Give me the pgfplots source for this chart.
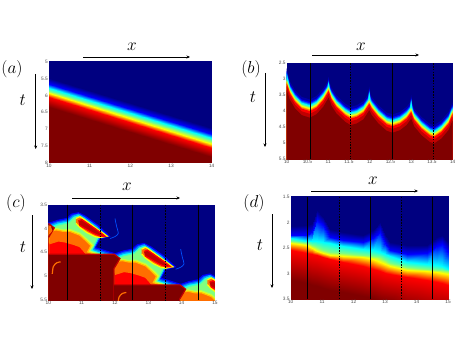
\documentclass[border=0pt]{standalone}
\usepackage{fontspec}
\setmainfont{Liberation Sans}
\usepackage{pgfplots}
\usepackage{pgfplotstable}
\pgfplotsset{compat=1.18}
\usetikzlibrary{arrows.meta}
\pgfplotsset{colormap={matjet}{rgb255(0cm)=(0,0,128) rgb255(1cm)=(0,0,255) rgb255(3cm)=(0,255,255) rgb255(5cm)=(255,255,0) rgb255(7cm)=(255,0,0) rgb255(8cm)=(128,0,0)}}
\pgfplotsset{panel/.style={scale only axis, y dir=reverse, axis on top, colormap name=matjet,
  point meta min=0, point meta max=1, tick style={draw=none}, axis line style={draw=none},
  tick label style={font=\fontsize{4.8}{5}\selectfont, text=black!70, inner sep=1pt},
  /pgf/number format/assume math mode=true, enlargelimits=false, anchor=south west, clip=true,
  axis background/.style={fill={rgb,255:red,0;green,0;blue,130}}}}
\tikzset{solidv/.style={black, line width=0.8pt}, dashv/.style={black, line width=0.7pt, dash pattern=on 1.6pt off 1.2pt},
  arr/.style={-{Stealth[length=3.5pt,width=3pt]}, black, line width=0.5pt}}
\definecolor{j1}{RGB}{0,0,170}\definecolor{j2}{RGB}{0,0,255}\definecolor{j3}{RGB}{0,80,255}\definecolor{j4}{RGB}{0,160,255}
\definecolor{j5}{RGB}{0,255,255}\definecolor{j6}{RGB}{64,255,191}\definecolor{j7}{RGB}{128,255,128}\definecolor{j8}{RGB}{191,255,64}
\definecolor{j9}{RGB}{255,255,0}\definecolor{j10}{RGB}{255,192,0}\definecolor{j11}{RGB}{255,110,0}\definecolor{j12}{RGB}{255,0,0}
\definecolor{j13}{RGB}{192,0,0}\definecolor{j14}{RGB}{128,0,0}
% panel (b): front position, with and without the spikes at the cusps
\pgfplotstableread{
10.00 3.02
10.08 3.33
10.20 3.59
10.36 3.80
10.56 3.88
10.72 3.77
10.88 3.54
11.01 3.25
11.08 3.51
11.20 3.75
11.41 4.01
11.54 4.11
11.69 4.06
11.85 3.93
11.99 3.65
12.05 3.80
12.21 4.06
12.41 4.29
12.55 4.35
12.73 4.27
12.89 4.11
13.00 3.91
13.07 4.15
13.25 4.43
13.45 4.64
13.55 4.69
13.73 4.53
13.90 4.27
14.00 3.96
14.00 7
10.00 7
}\frontb
\pgfplotstableread{
10.00 2.91
10.08 3.33
10.20 3.59
10.36 3.80
10.56 3.88
10.72 3.77
10.88 3.54
10.98 3.34
11.01 3.17
11.04 3.38
11.08 3.51
11.20 3.75
11.41 4.01
11.54 4.11
11.69 4.06
11.85 3.93
11.96 3.72
11.99 3.48
12.02 3.72
12.05 3.80
12.21 4.06
12.41 4.29
12.55 4.35
12.73 4.27
12.89 4.11
12.97 3.98
13.00 3.74
13.03 4.00
13.07 4.15
13.25 4.43
13.45 4.64
13.55 4.69
13.73 4.53
13.90 4.27
14.00 3.96
14.00 7
10.00 7
}\frontbs
% panel (c): one period of the pattern, one contour per table
\pgfplotstableread{
10.03 3.89
10.28 3.83
10.56 3.79
10.70 3.70
10.90 3.67
11.10 3.74
11.48 3.93
11.83 4.16
11.55 4.21
11.40 4.40
12.00 4.53
12.00 7
10.03 7
}\cb
\pgfplotstableread{
10.03 3.95
10.28 3.88
10.60 3.84
10.75 3.74
10.91 3.70
11.07 3.77
11.45 3.96
11.73 4.15
11.52 4.19
11.34 4.44
12.00 4.59
12.00 7
10.03 7
}\cc
\pgfplotstableread{
10.03 4.00
10.28 3.93
10.60 3.88
10.77 3.77
10.91 3.74
11.05 3.79
11.40 3.98
11.65 4.15
11.49 4.18
11.29 4.47
12.00 4.64
12.00 7
10.03 7
}\cg
\pgfplotstableread{
10.03 4.02
10.25 4.00
10.45 4.03
10.65 4.02
10.95 4.10
11.17 4.23
11.35 4.35
11.23 4.47
12.00 4.66
12.00 7
10.03 7
}\cy
\pgfplotstableread{
10.03 4.05
10.25 4.03
10.45 4.06
10.65 4.06
10.95 4.14
11.15 4.27
11.28 4.36
11.18 4.49
12.00 4.69
12.00 7
10.03 7
}\co
\pgfplotstableread{
10.03 4.32
10.30 4.26
10.50 4.28
10.75 4.33
10.95 4.38
11.05 4.46
11.12 4.52
12.00 4.96
12.00 7
10.03 7
}\cr
\pgfplotstableread{
10.00 4.54
11.98 4.54
12.15 4.63
11.97 4.84
11.97 5.18
11.97 7
10.00 7
}\cd
\pgfplotstableread{
10.83 3.79
10.95 3.75
11.10 3.82
11.45 4.00
11.77 4.16
11.55 4.19
11.40 4.17
11.17 4.09
10.95 3.98
10.83 3.89
}\tonguea
\pgfplotstableread{
10.90 3.84
11.00 3.81
11.15 3.88
11.50 4.05
11.70 4.16
11.55 4.16
11.35 4.10
11.10 4.00
10.93 3.93
}\tongueb
\pgfplotstableread{
12.00 3.79
12.05 3.96
12.10 4.10
12.00 4.17
11.85 4.21
}\plume
\pgfplotstableread{
10.12 4.95
10.15 4.80
10.25 4.72
10.37 4.70
}\cresc
% shifted copy of a contour of panel (c), with a soft edge one colour step out
\newcommand\cell[5]{\addplot[draw=#4, line width=1.2pt, fill=#3, forget plot] table[x expr=\thisrowno{0}+#1, y expr=\thisrowno{1}+#2] {#5};}
\newcommand\cells[3]{\cell{-1.97}{-0.643}{#1}{#2}{#3}\cell{0}{0}{#1}{#2}{#3}\cell{1.97}{0.643}{#1}{#2}{#3}\cell{3.94}{1.286}{#1}{#2}{#3}}
\newcommand\lined[5]{\addplot[#3, line width=#4, smooth, forget plot] table[x expr=\thisrowno{0}+#1, y expr=\thisrowno{1}+#2] {#5};}
% one contour of panel (b)
\newcommand\band[3]{\addplot[draw=none, fill=#2, forget plot] table[x index=0, y expr=\thisrowno{1}+#1] {#3};}
\begin{document}
\begin{tikzpicture}[x=1pt,y=1pt]
\path[use as bounding box] (0,0) rectangle (457,343);
% (a)
\begin{axis}[panel, at={(49pt,180.3pt)}, width=162.7pt, height=101pt,
  xmin=10, xmax=14, ymin=5, ymax=8, xtick={10,11,12,13,14}, ytick={5,5.5,6,6.5,7,7.5,8}]
\addplot[surf, shader=interp, mesh/rows=9, point meta=explicit] coordinates {
(10,3)[0] (14,4)[0]
(10,5.47)[0] (14,6.96)[0]
(10,5.67)[.125] (14,7.16)[.125]
(10,5.79)[.375] (14,7.28)[.375]
(10,5.88)[.5] (14,7.37)[.5]
(10,5.94)[.625] (14,7.43)[.625]
(10,6.06)[.875] (14,7.55)[.875]
(10,6.34)[1] (14,7.83)[1]
(10,9)[1] (14,10)[1]
};
\end{axis}
% (b)
\begin{axis}[panel, at={(286.7pt,183.7pt)}, width=166pt, height=96pt,
  xmin=10, xmax=14, ymin=2.5, ymax=5.5, xtick={10,10.5,11,11.5,12,12.5,13,13.5,14}, ytick={2.5,3,3.5,4,4.5,5,5.5}]
\band{-0.25}{j1}{\frontbs}
\band{-0.17}{j2}{\frontbs}
\band{-0.13}{j3}{\frontbs}
\band{-0.10}{j4}{\frontbs}
\band{-0.07}{j5}{\frontbs}
\band{-0.04}{j6}{\frontb}
\band{-0.01}{j7}{\frontb}
\band{0.01}{j8}{\frontb}
\band{0.03}{j9}{\frontb}
\band{0.055}{j10}{\frontb}
\band{0.08}{j11}{\frontb}
\band{0.115}{j12}{\frontb}
\band{0.2}{j13}{\frontb}
\band{0.32}{j14}{\frontb}
\addplot[solidv] coordinates {(10.56,2.5)(10.56,5.5)};
\addplot[dashv] coordinates {(11.54,2.5)(11.54,5.5)};
\addplot[solidv] coordinates {(12.55,2.5)(12.55,5.5)};
\addplot[dashv] coordinates {(13.54,2.5)(13.54,5.5)};
\end{axis}
% (c)
\begin{axis}[panel, at={(48.3pt,43pt)}, width=166.7pt, height=95.3pt,
  xmin=10, xmax=15, ymin=3.5, ymax=5.5, xtick={10,11,12,13,14,15}, ytick={3.5,4,4.5,5,5.5}]
\cells{j3}{j2}{\cb}
\cells{j5}{j4}{\cc}
\cells{j7}{j6}{\cg}
\cells{j9}{j8}{\cy}
\cells{j11}{j10}{\co}
\cells{j12}{j11}{\cr}
\cells{j14}{j13}{\cd}
\cells{j11}{j9}{\tonguea}
\cells{j13}{j12}{\tongueb}
\lined{0}{0}{j3}{0.7pt}{\plume}
\lined{1.97}{0.643}{j3}{0.7pt}{\plume}
\lined{0}{0}{j11}{1.2pt}{\cresc}
\lined{1.97}{0.643}{j11}{1.2pt}{\cresc}
\addplot[draw=none, fill=j11, forget plot] coordinates {(10,3.93)(10.08,3.95)(10.12,4.05)(10,4.15)};
\addplot[solidv] coordinates {(10.58,3.5)(10.58,5.5)};
\addplot[dashv] coordinates {(11.55,3.5)(11.55,5.5)};
\addplot[solidv] coordinates {(12.53,3.5)(12.53,5.5)};
\addplot[dashv] coordinates {(13.52,3.5)(13.52,5.5)};
\addplot[solidv] coordinates {(14.5,3.5)(14.5,5.5)};
\end{axis}
% (d)
\begin{axis}[panel, at={(290.7pt,43.7pt)}, width=157.3pt, height=102.6pt,
  xmin=10, xmax=15, ymin=1.5, ymax=3.5, xtick={10,11,12,13,14,15}, ytick={1.5,2,2.5,3,3.5}]
\addplot[surf, shader=interp, mesh/rows=9, point meta=explicit] coordinates {
(10,1)[0] (10.51,1)[0] (10.67,1)[0] (10.85,1)[0] (11.04,1)[0] (11.25,1)[0] (11.67,1)[0] (12.31,1)[0] (12.63,1)[0] (12.84,1)[0] (13.0,1)[0] (13.16,1)[0] (13.69,1)[0] (14.32,1)[0] (14.64,1)[0] (14.80,1)[0] (15,1)[0]
(10,2.08)[0] (10.51,2.05)[0] (10.67,2.02)[0] (10.85,1.76)[0] (11.04,1.89)[0] (11.25,2.12)[0] (11.67,2.18)[0] (12.31,2.25)[0] (12.63,2.15)[0] (12.84,1.99)[0] (13.0,2.22)[0] (13.16,2.38)[0] (13.69,2.44)[0] (14.32,2.44)[0] (14.64,2.28)[0] (14.80,2.25)[0] (15,2.38)[0]
(10,2.25)[.125] (10.51,2.25)[.125] (10.67,2.18)[.125] (10.85,1.95)[.125] (11.04,2.05)[.125] (11.25,2.28)[.125] (11.67,2.34)[.125] (12.31,2.38)[.125] (12.63,2.31)[.125] (12.84,2.18)[.125] (13.0,2.40)[.125] (13.16,2.54)[.125] (13.69,2.62)[.125] (14.32,2.60)[.125] (14.64,2.47)[.125] (14.80,2.42)[.125] (15,2.57)[.125]
(10,2.31)[.375] (10.51,2.36)[.375] (10.67,2.365)[.375] (10.85,2.37)[.375] (11.04,2.39)[.375] (11.25,2.41)[.375] (11.67,2.46)[.375] (12.31,2.51)[.375] (12.63,2.54)[.375] (12.84,2.57)[.375] (13.0,2.61)[.375] (13.16,2.66)[.375] (13.69,2.77)[.375] (14.32,2.81)[.375] (14.64,2.83)[.375] (14.80,2.85)[.375] (15,2.90)[.375]
(10,2.36)[.5] (10.51,2.40)[.5] (10.67,2.44)[.5] (10.85,2.49)[.5] (11.04,2.53)[.5] (11.25,2.57)[.5] (11.67,2.60)[.5] (12.31,2.64)[.5] (12.63,2.66)[.5] (12.84,2.68)[.5] (13.0,2.74)[.5] (13.16,2.80)[.5] (13.69,2.88)[.5] (14.32,2.90)[.5] (14.64,2.92)[.5] (14.80,2.93)[.5] (15,2.95)[.5]
(10,2.41)[.625] (10.51,2.45)[.625] (10.67,2.50)[.625] (10.85,2.56)[.625] (11.04,2.60)[.625] (11.25,2.63)[.625] (11.67,2.66)[.625] (12.31,2.68)[.625] (12.63,2.71)[.625] (12.84,2.77)[.625] (13.0,2.81)[.625] (13.16,2.86)[.625] (13.69,2.92)[.625] (14.32,2.94)[.625] (14.64,2.96)[.625] (14.80,2.98)[.625] (15,3.01)[.625]
(10,2.54)[.875] (10.51,2.59)[.875] (10.67,2.61)[.875] (10.85,2.64)[.875] (11.04,2.68)[.875] (11.25,2.72)[.875] (11.67,2.77)[.875] (12.31,2.85)[.875] (12.63,2.90)[.875] (12.84,2.94)[.875] (13.0,2.98)[.875] (13.16,3.01)[.875] (13.69,3.07)[.875] (14.32,3.12)[.875] (14.64,3.16)[.875] (14.80,3.19)[.875] (15,3.23)[.875]
(10,3.12)[1] (10.51,3.19)[1] (10.67,3.22)[1] (10.85,3.25)[1] (11.04,3.28)[1] (11.25,3.31)[1] (11.67,3.36)[1] (12.31,3.44)[1] (12.63,3.48)[1] (12.84,3.53)[1] (13.0,3.55)[1] (13.16,3.58)[1] (13.69,3.7)[1] (14.32,3.8)[1] (14.64,3.85)[1] (14.80,3.85)[1] (15,3.9)[1]
(10,4.5)[1] (10.51,4.5)[1] (10.67,4.5)[1] (10.85,4.5)[1] (11.04,4.5)[1] (11.25,4.5)[1] (11.67,4.5)[1] (12.31,4.5)[1] (12.63,4.5)[1] (12.84,4.5)[1] (13.0,4.5)[1] (13.16,4.5)[1] (13.69,4.5)[1] (14.32,4.5)[1] (14.64,4.5)[1] (14.80,4.5)[1] (15,4.5)[1]
};
\addplot[solidv] coordinates {(10.54,1.5)(10.54,3.5)};
\addplot[dashv] coordinates {(11.54,1.5)(11.54,3.5)};
\addplot[solidv] coordinates {(12.52,1.5)(12.52,3.5)};
\addplot[dashv] coordinates {(13.52,1.5)(13.52,3.5)};
\addplot[solidv] coordinates {(14.5,1.5)(14.5,3.5)};
\end{axis}
% labels and arrows, positions in px from the top of the reference
\tikzset{big/.style={font=\fontsize{18}{20}\selectfont, inner sep=0pt}}
\node[big] at (12,343-69) {$(a)$};
\node[big] at (132,343-47) {$x$};
\node[big] at (22.7,343-100) {$t$};
\draw[arr] (83,343-57) -- (190,343-57);
\draw[arr] (35.7,343-74) -- (35.7,343-149);
\node[big] at (251,343-69) {$(b)$};
\node[big] at (361,343-47) {$x$};
\node[big] at (253,343-97) {$t$};
\draw[arr] (312,343-55) -- (419,343-55);
\draw[arr] (265,343-73) -- (265,343-147);
\node[big] at (16,343-203) {$(c)$};
\node[big] at (127,343-187) {$x$};
\node[big] at (23,343-247) {$t$};
\draw[arr] (72,343-198) -- (180,343-198);
\draw[arr] (32,343-215) -- (32,343-289);
\node[big] at (254,343-203) {$(d)$};
\node[big] at (373,343-181) {$x$};
\node[big] at (260,343-245) {$t$};
\draw[arr] (311,343-191) -- (418,343-191);
\draw[arr] (272,343-214) -- (272,343-288);
\end{tikzpicture}
\end{document}
